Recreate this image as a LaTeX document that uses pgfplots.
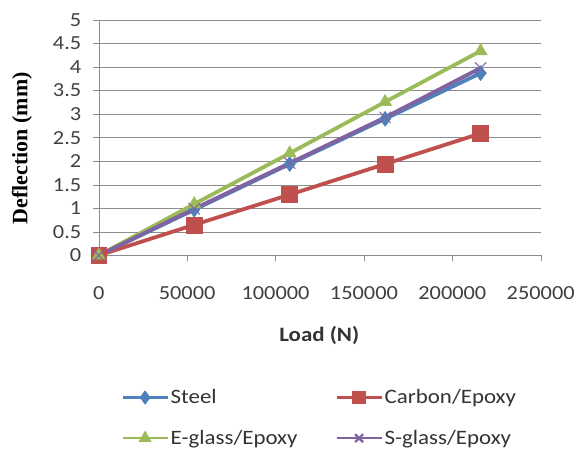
\documentclass[border=0pt]{standalone}
\usepackage{pgfplots}
\pgfplotsset{compat=1.18}
\usepackage{fontspec}
\setmainfont{Carlito}
\newfontfamily\serifb{Liberation Serif}
\newcommand{\sx}[1]{\scalebox{1.12}[1]{#1}}
\definecolor{cSteel}{HTML}{4F81BD}
\definecolor{cCarbon}{HTML}{C0504D}
\definecolor{cEglass}{HTML}{9BBB59}
\definecolor{cSglass}{HTML}{8064A2}
\definecolor{gridc}{HTML}{8C8C8C}
\begin{document}
\begin{tikzpicture}
\path (0pt,0pt) rectangle (578pt,449pt);
\begin{axis}[
  at={(99pt,193pt)}, anchor=south west,
  scale only axis, width=443pt, height=236pt,
  xmin=0, xmax=250000, ymin=0, ymax=5,
  xtick={0,50000,100000,150000,200000,250000},
  ytick={0,0.5,...,5},
  scaled x ticks=false,
  /pgf/number format/assume math mode=true,
  xticklabel={\sx{\pgfmathprintnumber[fixed,1000 sep={},assume math mode=true]{\tick}}},
  yticklabel={\sx{\pgfmathprintnumber[fixed,assume math mode=true]{\tick}}},
  ticklabel style={font=\fontsize{20}{22}\selectfont, text=black!75},
  axis x line=bottom, axis y line=left,
  axis line style={gridc, -},
  x axis line style={-}, y axis line style={-},
  tick style={gridc, thin},
  major tick length=6pt,
  tick align=outside,
  xtick pos=bottom, ytick pos=left,
  xticklabel shift=22pt,
  yticklabel shift=8pt,
  ymajorgrids, grid style={gridc, thin},
  xlabel={\sx{\textbf{Load (N)}}},
  every axis x label/.style={at={(axis description cs:0.499,-0.34)}, anchor=center},
  xlabel style={font=\fontsize{20.5}{22}\selectfont, text=black!80},
  ylabel={\serifb\bfseries Deflection (mm)},
  every axis y label/.style={at={(axis description cs:-0.174,0.455)}, anchor=center, rotate=90},
  ylabel style={font=\fontsize{22}{24}\selectfont},
  clip=false,
  legend columns=2,
  legend style={at={(0.5,-0.69)}, anchor=center, draw=none,
    font=\fontsize{20.5}{22}\selectfont, text=black!80,
    /tikz/every even column/.append style={column sep=36pt},
    row sep=21pt},
  legend cell align=left,
  legend image code/.code={
    \draw[#1, line width=2.4pt, mark options={scale=0.7}] (0pt,0pt) -- (45pt,0pt) plot coordinates {(22.5pt,0pt)} -- (0pt,0pt);
  },
]
\addplot[cSteel, line width=3.8pt, mark=diamond*, mark size=7.5pt, mark options={solid, line width=0.5pt}]
  coordinates {(0,0) (54000,0.97) (108000,1.94) (162000,2.90) (216000,3.87)};
\addlegendentry{\sx{Steel}}
\addplot[cCarbon, line width=3.8pt, mark=square*, mark size=8pt, mark options={solid, line width=0.5pt}]
  coordinates {(0,0) (54000,0.65) (108000,1.29) (162000,1.94) (216000,2.59)};
\addlegendentry{\sx{Carbon/Epoxy}}
\addplot[cEglass, line width=3.8pt, mark=triangle*, mark size=7.5pt, mark options={solid, line width=0.5pt}]
  coordinates {(0,0) (54000,1.09) (108000,2.17) (162000,3.26) (216000,4.34)};
\addlegendentry{\sx{E-glass/Epoxy}}
\addplot[cSglass, line width=3.8pt, mark=x, mark size=8pt, mark options={solid, line width=1pt}]
  coordinates {(0,0) (54000,0.99) (108000,1.96) (162000,2.93) (216000,3.98)};
\addlegendentry{\sx{S-glass/Epoxy}}
\end{axis}
\end{tikzpicture}
\end{document}
